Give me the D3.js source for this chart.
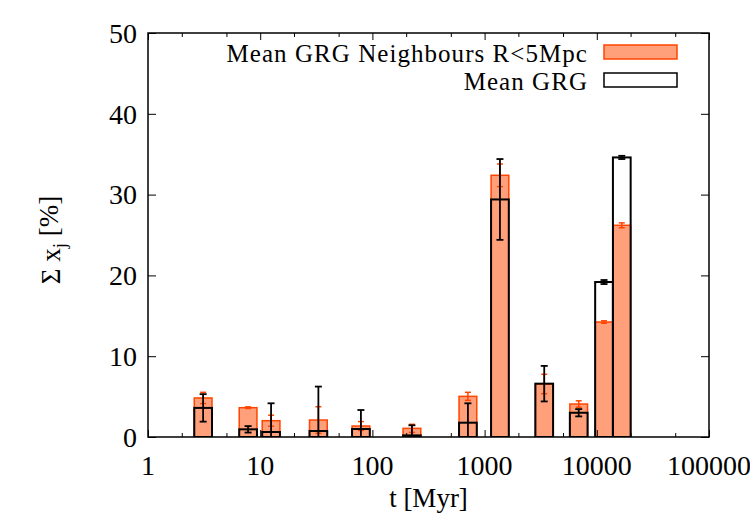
<!DOCTYPE html>
<html>
<head>
<meta charset="utf-8">
<script src="https://cdn.jsdelivr.net/npm/d3@7"></script>
<style>
    body { margin: 0; background: #fff; }
    text { font-family: "Liberation Serif", "Times New Roman", serif; fill: #000; }
</style>
</head>
<body>
<svg id="age-svg" width="750" height="525"></svg>
<script>
//**********  Mean GRG vs neighbours: light fraction per age bin  **************

// ages of the base populations [Myr]
var ages = [3.1, 7.8, 12.5, 33, 79, 225, 710, 1370, 3400, 6900, 11600, 16700];

// Mean GRG Neighbours R<5Mpc
var neighVals = [4.83, 3.63, 2.02, 2.1, 1.36, 1.07, 5.03, 32.39, 6.56, 4.08, 14.23, 26.2];
var neighErr = [0.7, 0.1, 0.68, 1.65, 0.55, 0.5, 0.5, 1.4, 1.2, 0.4, 0.15, 0.3];

// Mean GRG
var grgVals = [3.6, 0.95, 0.62, 0.74, 0.99, 0.2, 1.77, 29.4, 6.6, 3.0, 19.18, 34.6];
var grgErr = [1.7, 0.4, 3.55, 5.5, 2.35, 1.25, 2.4, 5.0, 2.2, 0.45, 0.25, 0.2];

// axes
var xTickLabels = [1, 10, 100, 1000, 10000, 100000];
var xMinorTicks = [2, 5, 20, 50, 200, 500, 2000, 5000, 20000, 50000];
var yTickLabels = [0, 10, 20, 30, 40, 50];

var seriesNames = ["Mean GRG Neighbours R<5Mpc", "Mean GRG"];


//Setting up chart layout
var margin = {
    top: 33,
    right: 41,
    bottom: 88,
    left: 148
};
var svgWidth = 750;
var svgHeight = 525;
var plotWidth = svgWidth - margin.left - margin.right;
var plotHeight = svgHeight - margin.top - margin.bottom;

var boxWidth = 0.158; // in decades
var tickFont = 28;
var textFont = 27;
var legendFont = 25;

var colorMapping = {
    "fill": "#ffa07a",
    "edge": "#ff4500",
    "grg": "#000000"
};

var svg = d3.select('#age-svg');

var xScale = d3.scaleLog()
    .domain([1, 100000])
    .range([margin.left, margin.left + plotWidth]);

var yScale = d3.scaleLinear()
    .domain([0, 50])
    .range([margin.top + plotHeight, margin.top]);

function boxLeft(t) {
    return xScale(t / Math.pow(10, boxWidth / 2));
}

function boxRight(t) {
    return xScale(t * Math.pow(10, boxWidth / 2));
}

svg.append('clipPath')
    .attr('id', 'plotClip')
    .append('rect')
    .attr('x', margin.left)
    .attr('y', margin.top)
    .attr('width', plotWidth)
    .attr('height', plotHeight);

var plotG = svg.append('g').attr('clip-path', 'url(#plotClip)');

var neighData = ages.map((t, i) => ({ t: t, v: neighVals[i], e: neighErr[i] }));
var grgData = ages.map((t, i) => ({ t: t, v: grgVals[i], e: grgErr[i] }));


/////////////////////////////////////////////////////////////////////
//                        BARS                                     //
/////////////////////////////////////////////////////////////////////
plotG.selectAll('.neighBar')
    .data(neighData)
    .enter()
    .append('rect')
    .attr('class', 'neighBar')
    .attr('x', d => boxLeft(d.t))
    .attr('y', d => yScale(d.v))
    .attr('width', d => boxRight(d.t) - boxLeft(d.t))
    .attr('height', d => yScale(0) - yScale(d.v))
    .style('fill', colorMapping.fill)
    .style('stroke', colorMapping.edge)
    .style('stroke-width', 1.5);

function drawErrors(data, color, cap, width, cls) {
    var g = plotG.selectAll('.' + cls)
        .data(data)
        .enter()
        .append('g')
        .attr('class', cls)
        .style('stroke', color)
        .style('stroke-width', width);
    g.append('line')
        .attr('x1', d => xScale(d.t))
        .attr('x2', d => xScale(d.t))
        .attr('y1', d => yScale(d.v + d.e))
        .attr('y2', d => yScale(d.v - d.e));
    g.append('line')
        .attr('x1', d => xScale(d.t) - cap)
        .attr('x2', d => xScale(d.t) + cap)
        .attr('y1', d => yScale(d.v + d.e))
        .attr('y2', d => yScale(d.v + d.e));
    g.append('line')
        .attr('x1', d => xScale(d.t) - cap)
        .attr('x2', d => xScale(d.t) + cap)
        .attr('y1', d => yScale(d.v - d.e))
        .attr('y2', d => yScale(d.v - d.e));
}

drawErrors(neighData, colorMapping.edge, 3, 1.5, 'neighErr');

plotG.selectAll('.grgBar')
    .data(grgData)
    .enter()
    .append('rect')
    .attr('class', 'grgBar')
    .attr('x', d => boxLeft(d.t))
    .attr('y', d => yScale(d.v))
    .attr('width', d => boxRight(d.t) - boxLeft(d.t))
    .attr('height', d => yScale(0) - yScale(d.v))
    .style('fill', 'none')
    .style('stroke', colorMapping.grg)
    .style('stroke-width', 2);

drawErrors(grgData, colorMapping.grg, 3.5, 1.8, 'grgErr');


/////////////////////////////////////////////////////////////////////
//                        AXES                                     //
/////////////////////////////////////////////////////////////////////
function tickAxis(axisFn, scale, ticks, size, transform) {
    svg.append('g')
        .attr('transform', transform)
        .call(axisFn(scale).tickValues(ticks).tickSizeInner(size).tickSizeOuter(0).tickFormat(''))
        .call(g => g.select('.domain').remove())
        .call(g => g.selectAll('line').style('stroke', '#000').style('stroke-width', 1));
}

// ticks point inwards on all four sides
tickAxis(d3.axisTop, xScale, xTickLabels, 7, 'translate(0,' + (margin.top + plotHeight) + ')');
tickAxis(d3.axisTop, xScale, xMinorTicks, 4, 'translate(0,' + (margin.top + plotHeight) + ')');
tickAxis(d3.axisBottom, xScale, xTickLabels, 7, 'translate(0,' + margin.top + ')');
tickAxis(d3.axisBottom, xScale, xMinorTicks, 4, 'translate(0,' + margin.top + ')');
tickAxis(d3.axisRight, yScale, yTickLabels, 8, 'translate(' + margin.left + ',0)');
tickAxis(d3.axisLeft, yScale, yTickLabels, 8, 'translate(' + (margin.left + plotWidth) + ',0)');

svg.append('rect')
    .attr('x', margin.left)
    .attr('y', margin.top)
    .attr('width', plotWidth)
    .attr('height', plotHeight)
    .style('fill', 'none')
    .style('stroke', '#000')
    .style('stroke-width', 1.5);

svg.selectAll('.xLabel')
    .data(xTickLabels)
    .enter()
    .append('text')
    .attr('class', 'xLabel')
    .attr('x', d => xScale(d))
    .attr('y', margin.top + plotHeight + 38)
    .attr('text-anchor', 'middle')
    .style('font-size', tickFont + 'px')
    .text(d => d);

svg.selectAll('.yLabel')
    .data(yTickLabels)
    .enter()
    .append('text')
    .attr('class', 'yLabel')
    .attr('x', margin.left - 11)
    .attr('y', d => yScale(d))
    .attr('dy', '0.35em')
    .attr('text-anchor', 'end')
    .style('font-size', tickFont + 'px')
    .text(d => d);

svg.append('text')
    .attr('x', margin.left + plotWidth / 2)
    .attr('y', 507)
    .attr('text-anchor', 'middle')
    .style('font-size', textFont + 'px')
    .text('t [Myr]');

var yTitle = svg.append('text')
    .attr('transform', 'translate(60,240) rotate(-90)')
    .attr('text-anchor', 'middle')
    .style('font-size', textFont + 'px');
yTitle.append('tspan').text('Σ x');
yTitle.append('tspan').attr('dy', '0.3em').style('font-size', '19px').text('j');
yTitle.append('tspan').attr('dy', '-0.3em').text(' [%]');


/////////////////////////////////////////////////////////////////////
//                        LEGEND                                   //
/////////////////////////////////////////////////////////////////////
var legendFill = [colorMapping.fill, '#ffffff'];
var legendEdge = [colorMapping.edge, colorMapping.grg];

var legend = svg.selectAll('.legend')
    .data(seriesNames)
    .enter()
    .append('g')
    .attr('class', 'legend')
    .attr('transform', (d, i) => 'translate(0,' + (28 * i) + ')');

legend.append('text')
    .attr('x', 588)
    .attr('y', 62)
    .attr('text-anchor', 'end')
    .style('font-size', legendFont + 'px')
    .style('letter-spacing', '1.05px')
    .text(d => d);

legend.append('rect')
    .attr('x', 604)
    .attr('y', 45)
    .attr('width', 73)
    .attr('height', 14)
    .style('fill', (d, i) => legendFill[i])
    .style('stroke', (d, i) => legendEdge[i])
    .style('stroke-width', 1.5);
</script>
</body>
</html>
